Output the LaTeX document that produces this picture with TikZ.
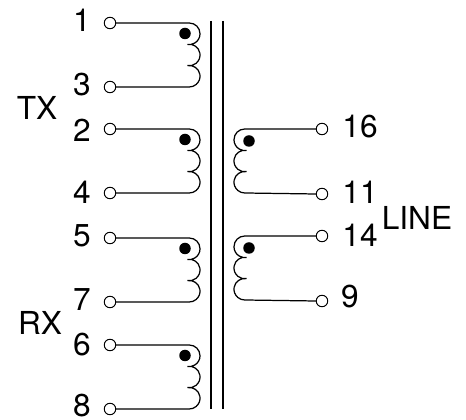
\documentclass[tikz,border=0pt]{standalone}
\usepackage{fontspec}
\setmainfont{TeX Gyre Heros}
\usetikzlibrary{positioning}

\begin{document}
\begin{tikzpicture}[
  font=\fontsize{18}{20}\selectfont,
  terminal/.style={draw, circle, fill=white, line width=0.55pt, minimum size=0.23cm, inner sep=0pt},
  coil/.style={line width=0.7pt},
  core/.style={line width=1.3pt},
  polarity/.style={circle, fill=black, minimum size=0.23cm, inner sep=0pt},
  pinlabel/.style={inner sep=0pt}
]
\useasboundingbox (0,0) rectangle (9.32,8.4);

% Core
\coordinate (coreAtop) at (4.22,7.98);
\coordinate (coreAbot) at (4.22,0.22);
\coordinate (coreBtop) at (4.46,7.98);
\coordinate (coreBbot) at (4.46,0.22);
\draw[core] (coreAtop) -- (coreAbot);
\draw[core] (coreBtop) -- (coreBbot);

% Terminals, left side
\foreach \pinname/\ypos in {1/7.94, 3/6.66, 2/5.82, 4/4.54, 5/3.64, 7/2.36, 6/1.50, 8/0.22}
  \node[terminal] (t\pinname) at (2.2,\ypos) {};

% Terminals, right side
\foreach \pinname/\ypos in {16/5.82, 11/4.52, 14/3.68, 9/2.38}
  \node[terminal] (t\pinname) at (6.44,\ypos) {};

% Left windings
\foreach \first/\second in {1/3, 2/4, 5/7, 6/8}{
  \draw[coil] (t\first.east) -- (3.785,0 |- t\first.east)
    arc[start angle=90, end angle=-100, radius=0.2155]
    arc[start angle=100, end angle=-100, radius=0.2155]
    arc[start angle=100, end angle=-90, radius=0.2155]
    -- (t\second.east);
  \node[polarity, below right=0.21cm and 1.5cm of t\first.center, anchor=center] (dot\first) {};
}

% Right windings
\foreach \first/\second in {16/11, 14/9}{
  \draw[coil] (t\first.west) -- (4.895,0 |- t\first.west)
    arc[start angle=90, end angle=280, radius=0.2155]
    arc[start angle=80, end angle=280, radius=0.2155]
    arc[start angle=80, end angle=270, radius=0.2155]
    -- (t\second.west);
  \node[polarity, below left=0.24cm and 1.46cm of t\first.center, anchor=center] (dot\first) {};
}

% Pin numbers
\foreach \pinname/\ypos in {1/8.00, 3/6.70, 2/5.80, 4/4.56, 5/3.68, 7/2.40, 6/1.50, 8/0.29}
  \node[pinlabel] (n\pinname) at (1.64,\ypos) {\pinname};
\foreach \pinname/\xpos/\ypos in {16/7.20/5.86, 11/7.20/4.56, 14/7.20/3.70, 9/7.00/2.46}
  \node[pinlabel] (n\pinname) at (\xpos,\ypos) {\pinname};

% Group names
\node[pinlabel] (tx) at (0.74,6.24) {TX};
\node[pinlabel] (rx) at (0.80,1.94) {RX};
\node[pinlabel] (line) at (8.34,4.04) {LINE};

\end{tikzpicture}
\end{document}
